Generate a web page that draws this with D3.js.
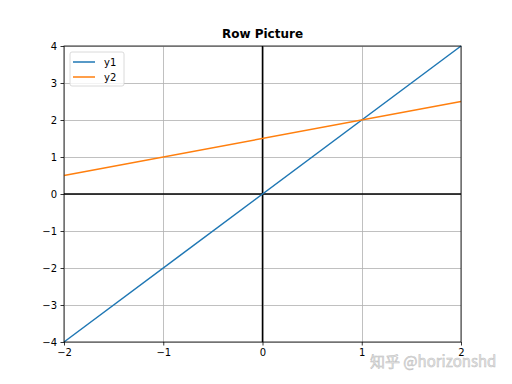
<!DOCTYPE html>
<html>
<head>
<meta charset="utf-8">
<script src="https://cdn.jsdelivr.net/npm/d3@7"></script>
<style>
  body { margin: 0; background: #fff; }
  text { font-family: "DejaVu Sans", sans-serif; }
</style>
</head>
<body>
<svg id="chart" width="512" height="384"></svg>
<script>
// chart data
var xValues = [-2, 2];
var y1Values = [-4, 4];
var y2Values = [0.5, 2.5];
var seriesNames = ['y1', 'y2'];
var seriesColors = ['#1f77b4', '#ff7f0e'];
var xTicks = [-2, -1, 0, 1, 2];
var yTicks = [-4, -3, -2, -1, 0, 1, 2, 3, 4];

var margin = { left: 64, top: 46, right: 51, bottom: 42 };
var width = 512 - margin.left - margin.right;
var height = 384 - margin.top - margin.bottom;

var svg = d3.select('#chart');
var g = svg.append('g').attr('transform', 'translate(' + margin.left + ',' + margin.top + ')');

var x = d3.scaleLinear().domain([-2, 2]).range([0, width]);
var y = d3.scaleLinear().domain([-4, 4]).range([height, 0]);

var fmt = function (d) { return d < 0 ? '\u2212' + Math.abs(d) : '' + d; };

// grid
g.append('g').selectAll('line').data(xTicks).enter().append('line')
    .attr('x1', function (d) { return x(d) + 0.5; }).attr('x2', function (d) { return x(d) + 0.5; })
    .attr('y1', 0).attr('y2', height)
    .attr('stroke', '#b0b0b0').attr('stroke-width', 0.8).attr('shape-rendering', 'crispEdges');
g.append('g').selectAll('line').data(yTicks).enter().append('line')
    .attr('y1', function (d) { return y(d) + 0.5; }).attr('y2', function (d) { return y(d) + 0.5; })
    .attr('x1', 0).attr('x2', width)
    .attr('stroke', '#b0b0b0').attr('stroke-width', 0.8).attr('shape-rendering', 'crispEdges');

// zero lines
g.append('line').attr('x1', x(0)).attr('x2', x(0)).attr('y1', 0).attr('y2', height)
    .attr('stroke', '#000').attr('stroke-width', 1.5);
g.append('line').attr('x1', 0).attr('x2', width).attr('y1', y(0)).attr('y2', y(0))
    .attr('stroke', '#000').attr('stroke-width', 1.5);

// series lines
var line = d3.line().x(function (d) { return x(d[0]); }).y(function (d) { return y(d[1]); });
[y1Values, y2Values].forEach(function (vals, i) {
    g.append('path')
        .datum(xValues.map(function (xv, j) { return [xv, vals[j]]; }))
        .attr('d', line)
        .attr('fill', 'none')
        .attr('stroke', seriesColors[i])
        .attr('stroke-width', 1.5);
});

// axes
var xAxis = g.append('g').attr('transform', 'translate(0,' + height + ')')
    .call(d3.axisBottom(x).tickValues(xTicks).tickFormat(fmt).tickSize(3.5).tickPadding(3.5));
var yAxis = g.append('g')
    .call(d3.axisLeft(y).tickValues(yTicks).tickFormat(fmt).tickSize(3.5).tickPadding(3.5));
[xAxis, yAxis].forEach(function (a) {
    a.selectAll('text').attr('font-size', 10).attr('fill', '#000')
        .style('font-family', '"DejaVu Sans", sans-serif');
    a.selectAll('line').attr('stroke', '#000').attr('stroke-width', 0.8);
    a.select('.domain').remove();
});

// frame
g.append('rect').attr('width', width).attr('height', height)
    .attr('fill', 'none').attr('stroke', '#000').attr('stroke-width', 0.8);

// title
svg.append('text').attr('x', margin.left + width / 2).attr('y', margin.top - 8)
    .attr('text-anchor', 'middle').attr('font-size', 12).attr('font-weight', 'bold')
    .text('Row Picture');

// legend
var legend = g.append('g').attr('transform', 'translate(6,6)');
legend.append('rect').attr('width', 54).attr('height', 34).attr('rx', 2)
    .attr('fill', '#fff').attr('fill-opacity', 0.8)
    .attr('stroke', '#d0d0d0').attr('stroke-width', 0.8);
seriesNames.forEach(function (name, i) {
    var ly = 10 + i * 15;
    legend.append('line').attr('x1', 3).attr('x2', 25).attr('y1', ly).attr('y2', ly)
        .attr('stroke', seriesColors[i]).attr('stroke-width', 1.5);
    legend.append('text').attr('x', 34).attr('y', ly + 3.5).attr('font-size', 10).text(name);
});

// watermark (overlaps the last tick label, as in the reference)
svg.append('text').attr('x', 370).attr('y', 367).attr('font-size', 15)
    .attr('fill', '#e6e6e6').attr('stroke', '#bdbdbd').attr('stroke-width', 0.5)
    .style('font-family', '"Noto Sans CJK SC", sans-serif')
    .text('知乎 @horizonshd');
</script>
</body>
</html>
